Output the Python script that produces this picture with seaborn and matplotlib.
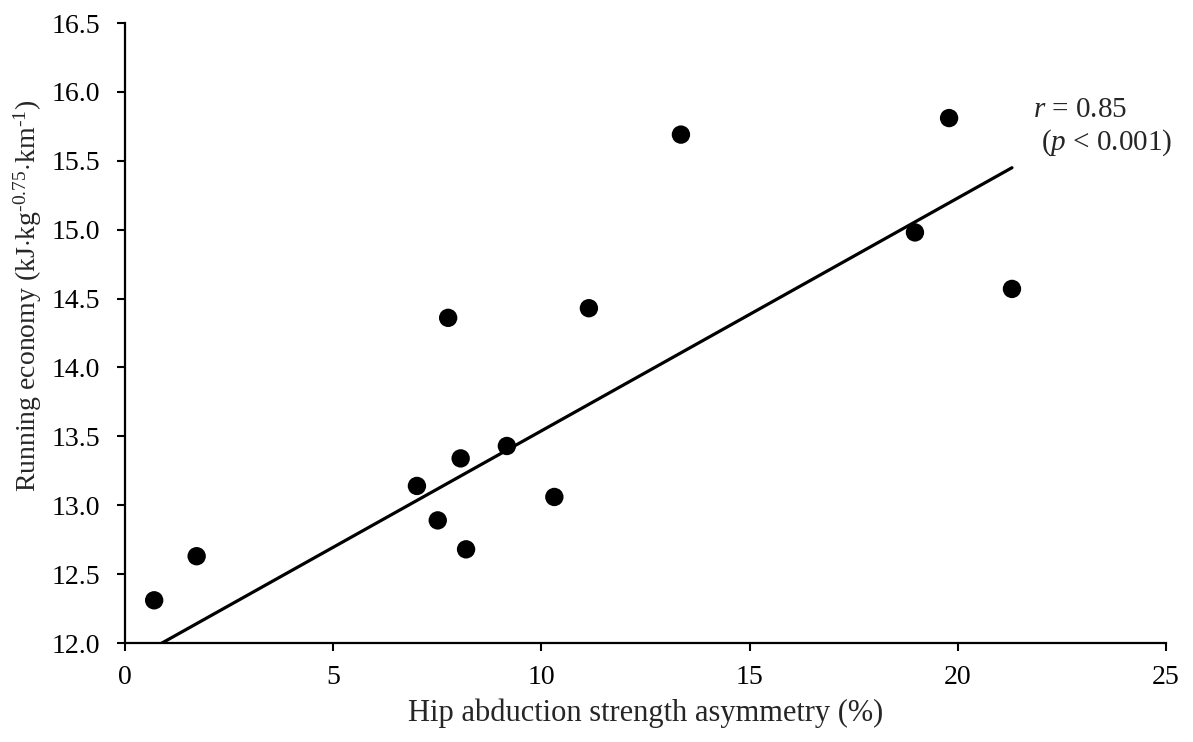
import numpy as np
import pandas as pd
import matplotlib
matplotlib.use('Agg')
import matplotlib.pyplot as plt
import seaborn as sns

# values
asymmetry = [0.70, 1.72, 7.01, 7.51, 7.76, 8.06, 8.19, 9.17, 10.31, 11.14, 13.35, 18.97, 19.79, 21.30]
running_economy = [12.31, 12.63, 13.14, 12.89, 14.36, 13.34, 12.68, 13.43, 13.06, 14.43, 15.69, 14.98, 15.81, 14.57]
fit_slope = 0.169
fit_intercept = 11.85
r_text = '$r$ = 0.85'
p_text = '($p$ < 0.001)'

df = pd.DataFrame({'asym': asymmetry, 're': running_economy})
xs = np.array([df.asym.min(), df.asym.max()])
fit = pd.DataFrame({'asym': xs, 're': fit_intercept + fit_slope * xs})

sns.set_style('ticks')
plt.rcParams['font.family'] = ['Liberation Serif', 'DejaVu Serif']
plt.rcParams['mathtext.fontset'] = 'custom'
plt.rcParams['mathtext.rm'] = 'Liberation Serif'
plt.rcParams['mathtext.it'] = 'Liberation Serif:italic'

fig, ax = plt.subplots(figsize=(11.93, 7.42), dpi=100)
fig.subplots_adjust(left=0.1048, right=0.9774, top=0.969, bottom=0.1334)

sns.lineplot(data=fit, x='asym', y='re', color='black', linewidth=2.3, ax=ax)
sns.scatterplot(data=df, x='asym', y='re', color='black', s=175, edgecolor='none', ax=ax, zorder=3)

ax.set_xlim(0, 25)
ax.set_ylim(12.0, 16.5)
ax.set_xticks(range(0, 26, 5))
ax.set_yticks(np.arange(12.0, 16.51, 0.5))
ax.yaxis.set_major_formatter(matplotlib.ticker.FormatStrFormatter('%.1f'))
ax.tick_params(direction='out', length=6, width=1.5, labelsize=20, colors='black')
ax.tick_params(axis='y', pad=12)
ax.tick_params(axis='x', pad=10)
for side in ['left', 'bottom']:
    ax.spines[side].set_linewidth(1.6)
    ax.spines[side].set_color('black')
sns.despine(ax=ax)

ax.set_xlabel('Hip abduction strength asymmetry (%)', fontsize=22, labelpad=6)
ax.set_ylabel('Running economy (kJ$\\cdot$kg$^{\\mathrm{\u20100.75}}$$\\cdot$km$^{\\mathrm{\u20101}}$)', fontsize=20)
ax.yaxis.set_label_coords(-0.078, 0.56)

ax.text(21.8, 15.82, r_text, fontsize=21, ha='left', va='baseline')
ax.text(22.0, 15.58, p_text, fontsize=21, ha='left', va='baseline')

fig.savefig('out.png', dpi=100)
